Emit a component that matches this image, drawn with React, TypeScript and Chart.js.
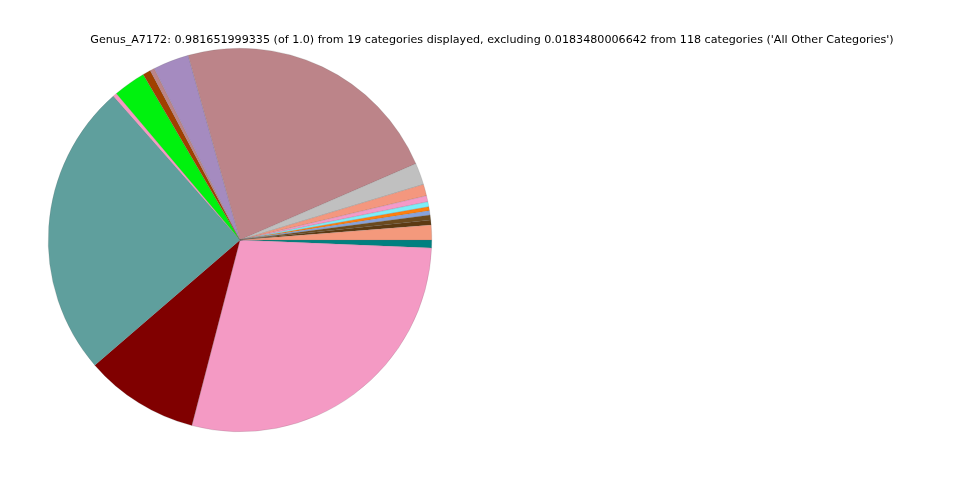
import React, { useEffect, useRef } from "react";
import { Chart, registerables } from "chart.js";

Chart.register(...registerables);

// Slices in the reference's counterclockwise order, starting at 3 o'clock
const categories = [
  "Category 1", "Category 2", "Category 3", "Category 4", "Category 5",
  "Category 6", "Category 7", "Category 8", "Category 9", "Category 10",
  "Category 11", "Category 12", "Category 13", "Category 14", "Category 15",
  "Category 16", "Category 17", "Category 18", "Category 19",
];
const values = [
  0.01222, 0.00409, 0.00409, 0.00354, 0.00327,
  0.00414, 0.00502, 0.0096, 0.01802, 0.22415,
  0.02972, 0.00368, 0.00654, 0.02686, 0.00327,
  0.24378, 0.09462, 0.27855, 0.00654,
];
const colors = [
  "#F4997C", "#5C3A12", "#6B4A1E", "#87A3DC", "#FF7F0E",
  "#7DEEF8", "#F49AC8", "#F4977E", "#C0C0C0", "#BC8489",
  "#A58BC0", "#BC8489", "#A04000", "#00F20E", "#F49AC2",
  "#5F9F9D", "#800000", "#F49AC4", "#008080",
];
const titleText =
  "Genus_A7172: 0.981651999335 (of 1.0) from 19 categories displayed, excluding 0.0183480006642 from 118 categories ('All Other Categories')";

export default function App() {
  const ref = useRef<HTMLCanvasElement | null>(null);

  useEffect(() => {
    document.body.style.margin = "0";
    const canvas = ref.current;
    if (!canvas) return;

    // Chart.js draws clockwise; reverse so the order matches the reference's counterclockwise layout
    const labels = [...categories].reverse();
    const data = [...values].reverse();
    const bg = [...colors].reverse();

    const titlePlugin = {
      id: "topTitle",
      afterDraw(chart: any) {
        const ctx = chart.ctx;
        ctx.save();
        ctx.font = "11.14px 'DejaVu Sans'";
        ctx.fillStyle = "#000";
        ctx.textAlign = "center";
        ctx.textBaseline = "middle";
        ctx.fillText(titleText, 492, 40);
        ctx.restore();
      },
    };

    const chart = new Chart(canvas, {
      type: "pie",
      data: {
        labels,
        datasets: [
          {
            data,
            backgroundColor: bg,
            borderColor: "rgba(90,90,90,0.35)",
            borderWidth: 0.5,
          },
        ],
      },
      options: {
        responsive: false,
        animation: false,
        rotation: 90,
        layout: { padding: { left: 48, right: 528, top: 48, bottom: 48 } },
        plugins: {
          legend: { display: false },
          tooltip: { enabled: false },
          title: { display: false },
        },
      },
      plugins: [titlePlugin],
    });
    return () => chart.destroy();
  }, []);

  return (
    <div style={{ width: 960, height: 480, background: "#fff" }}>
      <canvas ref={ref} width={960} height={480} />
    </div>
  );
}
